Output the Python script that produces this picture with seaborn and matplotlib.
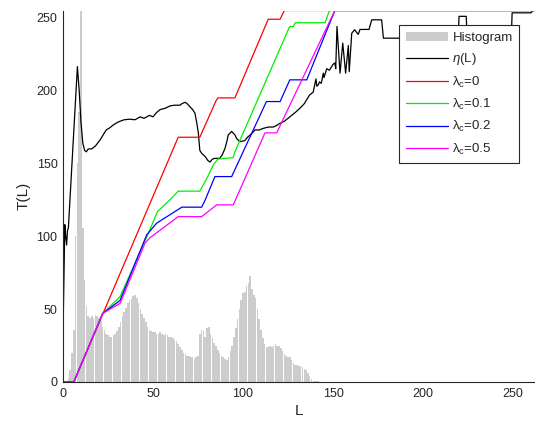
import numpy as np
import pandas as pd
import matplotlib
matplotlib.use("Agg")
import matplotlib.pyplot as plt
import seaborn as sns
from matplotlib.lines import Line2D
from matplotlib.patches import Patch

# ---------------- data ----------------
hist_L = list(range(0, 143))
hist_v = [0, 0, 0, 3, 8, 20, 36, 100, 150, 185,
          260, 106, 70, 52, 45, 44, 45, 44, 46, 45,
          44, 42, 38, 36, 33, 32, 31, 31, 32, 33,
          35, 38, 41, 45, 48, 51, 54, 56, 57, 59,
          60, 58, 54, 50, 47, 44, 41, 38, 36, 35,
          34, 34, 33, 33, 34, 33, 32, 33, 32, 31,
          31, 30, 29, 28, 26, 24, 22, 20, 19, 18,
          18, 17, 17, 16, 17, 18, 33, 36, 35, 31,
          37, 38, 33, 30, 27, 25, 22, 20, 18, 17,
          16, 15, 17, 21, 25, 31, 37, 43, 50, 56,
          61, 62, 66, 68, 73, 64, 60, 58, 50, 43,
          36, 30, 26, 24, 24, 25, 24, 25, 26, 25,
          25, 23, 21, 19, 18, 17, 17, 15, 13, 12,
          12, 11, 11, 10, 9, 8, 6, 4, 2, 1,
          1, 0.5, 0.5]

eta_L = [0, 1, 1.5, 2, 2.5, 3, 8, 9, 10, 11, 12, 13, 14, 16, 18, 20.5, 22, 24, 26, 28,
         30, 31.7, 34, 37, 40, 42.8, 45, 48, 50, 52, 54, 57, 59.4, 62, 65, 66, 67.8, 69,
         70.5, 72, 73.3, 74.3, 75.2, 76, 77, 79, 80.5, 81.7, 83, 84.4, 87, 88.5, 90, 91,
         91.8, 93.7, 95.5, 96.5, 98.3, 101, 102.5, 104, 106.7, 109, 111, 114, 116.8,
         118.5, 120.6, 123, 126, 129, 131.7, 134, 137, 139, 140.5, 141, 141.8, 142.5,
         143.5, 144.6, 145, 146.5, 148, 149, 150, 151, 151.5, 152.2, 153.9, 155.4, 157,
         158.5, 159, 160.4, 162, 164, 165, 167, 170, 171.5, 177, 178, 219.5, 220, 224,
         224.5, 249, 249.5, 260, 261]
eta_T = [32, 108, 100, 94, 104, 106, 216.5, 200, 178, 164, 159, 158, 160, 160, 162, 166,
         169, 173, 174.5, 176.5, 178, 179, 180, 180.4, 180, 182, 181, 183, 182, 185, 187,
         188, 189.5, 190, 190, 191, 192, 191, 189, 187, 184.5, 178, 170.8, 159, 157,
         154.7, 152, 151, 153, 153.5, 153.5, 156, 160.4, 165, 169.6, 172, 169.6, 167,
         165, 165.7, 168, 169.6, 173, 173, 174, 175, 175, 176, 177.6, 179, 182, 185, 188,
         191, 197, 199, 208, 203, 204, 206, 205, 212, 209, 215, 214, 216, 218, 219, 215,
         244, 212, 232.6, 212, 231, 213, 239.4, 241.8, 238.6, 242, 242, 242, 248.6, 248.6,
         236, 236, 251, 251, 236, 236, 253.4, 253.4, 255]

red_L = [0, 6, 64, 76, 85, 86, 95.5, 114, 120.6, 123, 262]
red_T = [0, 0, 168, 168, 193, 195, 195, 249, 249, 255, 255]

green_L = [0, 6, 22, 31.7, 47.4, 52.5, 59.4, 64, 76, 80, 83.5, 86, 94.5, 95.5, 125.2,
           126, 128, 129, 145.6, 148, 262]
green_T = [0, 0, 47, 58.6, 102, 117, 125, 131, 131, 140, 149, 153, 154, 158, 242,
           244, 244, 246.6, 246.6, 255, 255]

blue_L = [0, 6, 22, 31.7, 46.5, 52, 66, 77, 79, 84.4, 93.7, 113, 120.6, 126, 135.4,
          151, 262]
blue_T = [0, 0, 47, 56, 101, 109, 120, 120, 125, 141, 141, 192.5, 192.5, 207.4, 207.4,
          255, 255]

mag_L = [0, 6, 22, 31.7, 45.6, 48.3, 64, 77, 85.4, 94.6, 112.2, 118.7, 151, 262]
mag_T = [0, 0, 47, 54, 95.4, 99, 113.5, 113.5, 121.6, 121.6, 171, 171, 255, 255]

x_ticks = [0, 50, 100, 150, 200, 250]
y_ticks = [0, 50, 100, 150, 200, 250]

# ---------------- style ----------------
sns.set_style("white")
plt.rcParams['font.family'] = ['Liberation Sans', 'DejaVu Sans']
plt.rcParams['mathtext.fontset'] = 'custom'
plt.rcParams['mathtext.rm'] = 'Liberation Sans'
plt.rcParams['mathtext.it'] = 'Liberation Sans:italic'

fig = plt.figure(figsize=(5.35, 4.29), dpi=100)
ax = fig.add_axes([63 / 535, 1 - 382 / 429, 472 / 535, 371.5 / 429])

hist_df = pd.DataFrame({"L": hist_L, "v": hist_v})
sns.histplot(data=hist_df, x="L", weights="v", discrete=True, shrink=0.8,
             color="#cccccc", alpha=1.0, edgecolor="none", linewidth=0, ax=ax)

series = [
    (eta_L, eta_T, "black", 0.9),
    (red_L, red_T, "#ff0000", 0.9),
    (green_L, green_T, "#00ee00", 0.9),
    (blue_L, blue_T, "#0000ff", 0.9),
    (mag_L, mag_T, "#ff00ff", 0.9),
]
for xs, ys, c, lw in series:
    d = pd.DataFrame({"x": xs, "y": ys})
    sns.lineplot(data=d, x="x", y="y", color=c, linewidth=lw, sort=False,
                 estimator=None, ax=ax)

ax.set_xlim(0, 262.2)
ax.set_ylim(0, 255)
ax.set_xticks(x_ticks)
ax.set_yticks(y_ticks)
ax.tick_params(direction="in", length=4, width=0.8, labelsize=9, colors="#262626",
               pad=4)
for s in ["top", "right"]:
    ax.spines[s].set_visible(False)
for s in ["left", "bottom"]:
    ax.spines[s].set_color("#262626")
    ax.spines[s].set_linewidth(0.8)
ax.set_xlabel("L", fontsize=11, color="#262626", labelpad=3)
ax.set_ylabel("T(L)", fontsize=11, color="#262626", labelpad=4)
ax.patch.set_alpha(0)

handles = [
    Patch(facecolor="#cccccc", edgecolor="none"),
    Line2D([], [], color="black", lw=0.9),
    Line2D([], [], color="#ff0000", lw=0.9),
    Line2D([], [], color="#00ee00", lw=0.9),
    Line2D([], [], color="#0000ff", lw=0.9),
    Line2D([], [], color="#ff00ff", lw=0.9),
]
labels = ["Histogram", r"$\eta$(L)", r"λ$_\mathrm{c}$=0", r"λ$_\mathrm{c}$=0.1",
          r"λ$_\mathrm{c}$=0.2", r"λ$_\mathrm{c}$=0.5"]
leg = ax.legend(handles, labels, loc="upper left", bbox_to_anchor=(399 / 535, 1 - 25 / 429),
                bbox_transform=fig.transFigure, fontsize=9.5, frameon=True, fancybox=False,
                handlelength=3.2, handleheight=0.75, handletextpad=0.35, labelspacing=0.55,
                borderpad=0.5, borderaxespad=0)
leg.get_frame().set_edgecolor("#262626")
leg.get_frame().set_linewidth(0.8)
leg.get_frame().set_facecolor("white")
leg.get_frame().set_alpha(1)

fig.savefig("out.png", dpi=100)
